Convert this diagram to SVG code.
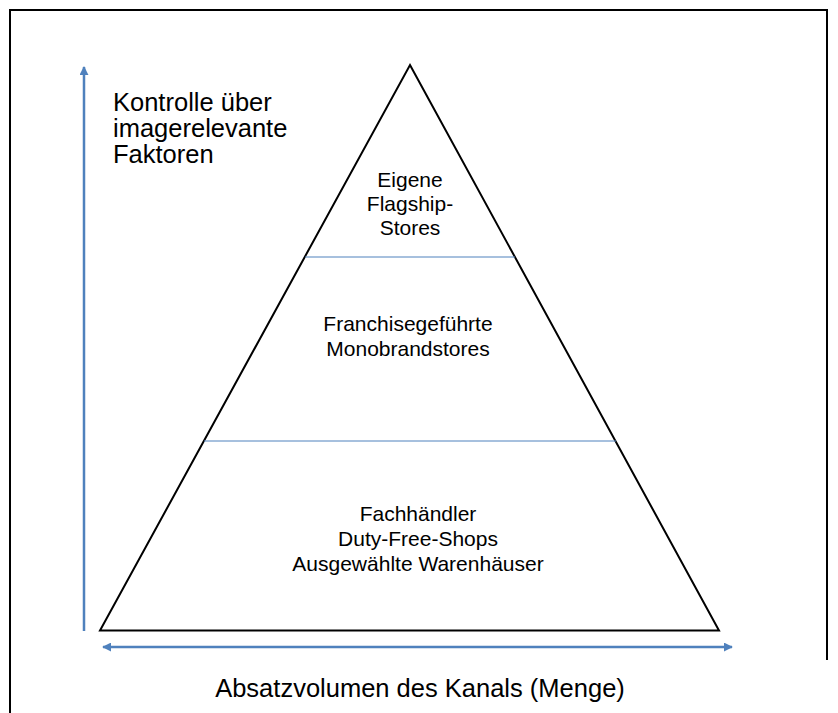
<svg xmlns="http://www.w3.org/2000/svg" width="838" height="713" viewBox="0 0 838 713">
<defs>
<style>
.t{font-family:"Liberation Sans",Arial,sans-serif;fill:#000}
.p{font-size:21px;text-anchor:middle}
.ax{stroke:#4F81BD;stroke-width:2.5;fill:none}
.div{stroke:#4F81BD;stroke-width:1;fill:none}
</style>
<marker id="ah" viewBox="0 0 10 10" refX="9" refY="5" markerWidth="3.6" markerHeight="3.6" orient="auto-start-reverse" markerUnits="strokeWidth">
<path d="M0,0 L10,5 L0,10 z" fill="#4F81BD"/>
</marker>
</defs>
<rect width="838" height="713" fill="#fff"/>
<g id="frame" stroke="#000" stroke-width="2" fill="none">
<path d="M10,713 V10 H827 V660"/>
</g>
<g id="pyramid">
<path d="M410,65 L719,630.5 L100,630.5 Z" fill="none" stroke="#000" stroke-width="2" stroke-linejoin="miter"/>
</g>
<g id="connectors">
<line class="div" x1="305" y1="257" x2="515" y2="257"/>
<line class="div" x1="204" y1="441" x2="616" y2="441"/>
<line class="ax" x1="84" y1="631" x2="84" y2="67" marker-end="url(#ah)"/>
<line class="ax" x1="103" y1="647" x2="732" y2="647" marker-start="url(#ah)" marker-end="url(#ah)"/>
</g>
<g id="label-y">
<text class="t" font-size="25.5" x="113" y="111">Kontrolle über</text>
<text class="t" font-size="25.5" x="113" y="137">imagerelevante</text>
<text class="t" font-size="25.5" x="113" y="163">Faktoren</text>
</g>
<g id="tier-top">
<text class="t p" x="410" y="187">Eigene</text>
<text class="t p" x="410" y="211">Flagship-</text>
<text class="t p" x="410" y="235">Stores</text>
</g>
<g id="tier-middle">
<text class="t p" x="408" y="331">Franchisegeführte</text>
<text class="t p" x="408" y="356">Monobrandstores</text>
</g>
<g id="tier-bottom">
<text class="t p" x="418" y="521">Fachhändler</text>
<text class="t p" x="418" y="546">Duty-Free-Shops</text>
<text class="t p" x="418" y="571">Ausgewählte Warenhäuser</text>
</g>
<g id="label-x">
<text class="t" font-size="25.5" x="420" y="697" text-anchor="middle">Absatzvolumen des Kanals (Menge)</text>
</g>
</svg>
